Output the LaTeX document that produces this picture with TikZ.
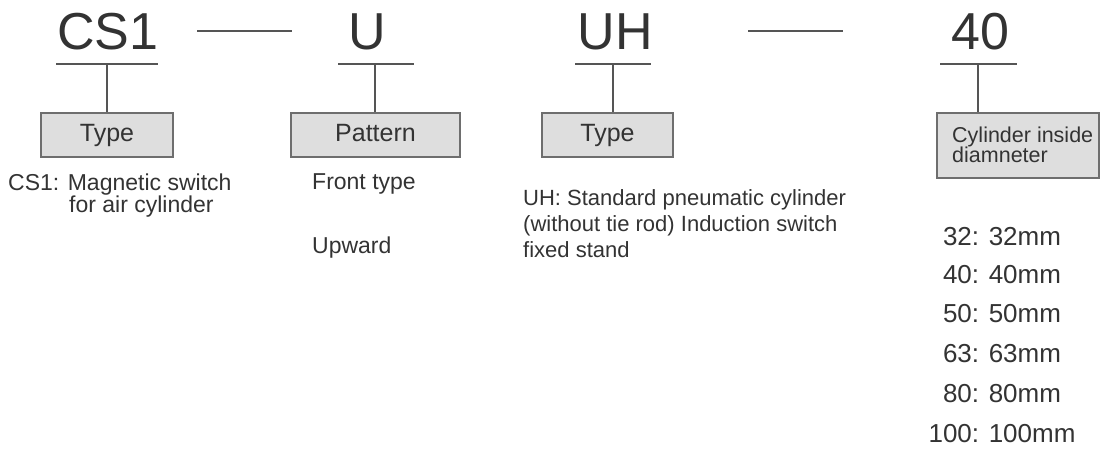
\documentclass[tikz,border=0pt]{standalone}
\usepackage{fontspec}
\setmainfont{Liberation Sans}
\definecolor{txt}{HTML}{333333}
\definecolor{linec}{HTML}{555555}
\definecolor{boxc}{HTML}{6E6E6E}
\definecolor{boxf}{HTML}{DEDEDE}
\begin{document}
\begin{tikzpicture}[x=1pt,y=-1pt,
  code/.style={font=\fontsize{52}{52}\selectfont, text=txt, inner sep=0pt, anchor=base},
  lbl/.style={draw=boxc, fill=boxf, line width=1.8pt, inner sep=0pt, font=\fontsize{25}{25}\selectfont, text=txt, text height=18pt, text depth=4pt},
  desc/.style={font=\fontsize{22}{26}\selectfont, text=txt, inner sep=0pt, anchor=base west},
  dia/.style={font=\fontsize{26}{26}\selectfont, text=txt, inner sep=0pt, anchor=base},
  ln/.style={draw=linec, line width=1.5pt}]
\useasboundingbox (0,0) rectangle (1100,449);
\fill[white] (0,0) rectangle (1100,449);

% codes
\node[code] (cs1) at (108,50) {CS1};
\node[code] (u) at (367,50) {U};
\node[code] (uh) at (615.5,50) {UH};
\node[code] (n40) at (980,50) {40};

% dashes
\coordinate (d1a) at (197,31); \coordinate (d1b) at (292,31);
\coordinate (d2a) at (748,31); \coordinate (d2b) at (843,31);
\draw[ln] (d1a) -- (d1b);
\draw[ln] (d2a) -- (d2b);

% underlines
\coordinate (ul1a) at (56,64);  \coordinate (ul1b) at (158,64);  \coordinate (ul1m) at (107,64);
\coordinate (ul2a) at (338,64); \coordinate (ul2b) at (414,64);  \coordinate (ul2m) at (375,64);
\coordinate (ul3a) at (575,64); \coordinate (ul3b) at (651,64);  \coordinate (ul3m) at (613,64);
\coordinate (ul4a) at (940,64); \coordinate (ul4b) at (1017,64); \coordinate (ul4m) at (978,64);
\draw[ln] (ul1a) -- (ul1b);
\draw[ln] (ul2a) -- (ul2b);
\draw[ln] (ul3a) -- (ul3b);
\draw[ln] (ul4a) -- (ul4b);

% boxes
\node[lbl, minimum width=132pt, minimum height=44pt] (b1) at (107,135) {Type};
\node[lbl, minimum width=169pt, minimum height=44pt] (b2) at (375.5,135) {Pattern};
\node[lbl, minimum width=131pt, minimum height=44pt] (b3) at (607.5,135) {Type};
\node[lbl, minimum width=162pt, minimum height=65pt] (b4) at (1018,145.5) {};
\node[inner sep=0pt, anchor=base west, text=txt, font=\fontsize{21.5}{21.5}\selectfont] (b4a) at (952,143) {Cylinder inside};
\node[inner sep=0pt, anchor=base west, text=txt, font=\fontsize{21.5}{21.5}\selectfont] (b4b) at (952,163) {diamneter};

% verticals
\draw[ln] (ul1m) -- (ul1m |- b1.north);
\draw[ln] (ul2m) -- (ul2m |- b2.north);
\draw[ln] (ul3m) -- (ul3m |- b3.north);
\draw[ln] (ul4m) -- (ul4m |- b4.north);

% descriptions
\node[desc, font=\fontsize{23}{23}\selectfont] (t1a) at (8,191) {CS1: Magnetic switch};
\node[desc, font=\fontsize{23}{23}\selectfont] (t1b) at (69,213) {for air cylinder};
\node[desc, font=\fontsize{23}{23}\selectfont] (t2a) at (312,190) {Front type};
\node[desc, font=\fontsize{23}{23}\selectfont] (t2b) at (312,253) {Upward};
\node[desc] (t3a) at (523,206) {UH: Standard pneumatic cylinder};
\node[desc] (t3b) at (523,232) {(without tie rod) Induction switch};
\node[desc] (t3c) at (523,258) {fixed stand};

% diameters
\node[dia] (s1) at (1002,245) {32: 32mm};
\node[dia] (s2) at (1002,283) {40: 40mm};
\node[dia] (s3) at (1002,322) {50: 50mm};
\node[dia] (s4) at (1002,362) {63: 63mm};
\node[dia] (s5) at (1002,402) {80: 80mm};
\node[dia] (s6) at (1002,442) {100: 100mm};
\end{tikzpicture}
\end{document}
